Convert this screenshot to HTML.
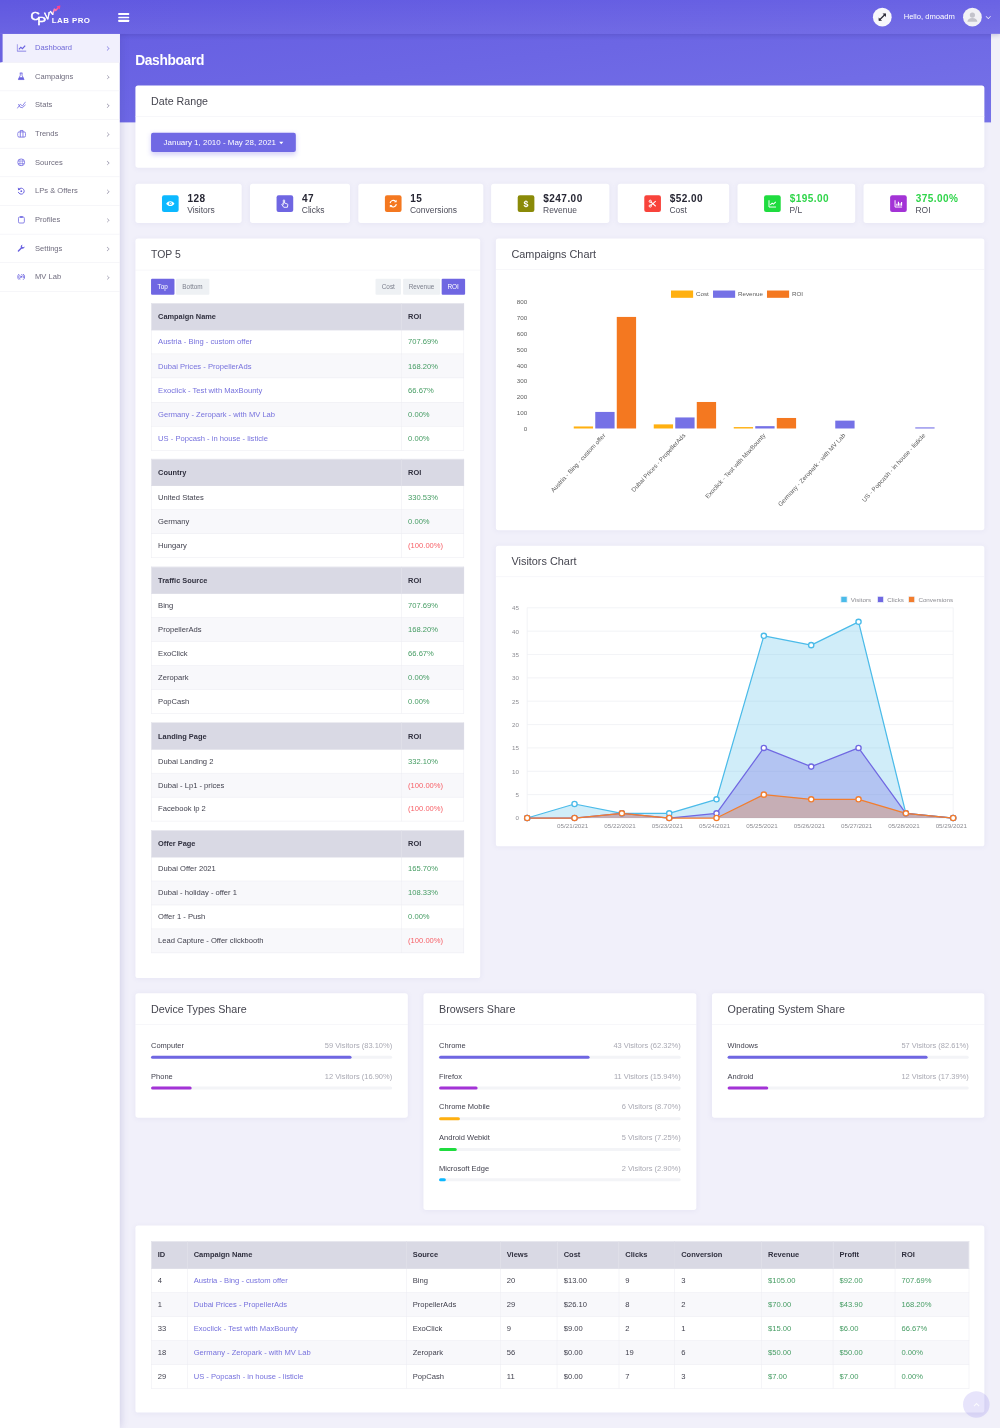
<!DOCTYPE html><html lang="en"><head><meta charset="utf-8"><title>Dashboard - CPV Lab Pro</title><style>
*{box-sizing:border-box}
html,body{margin:0;padding:0}
body{width:1000px;height:1428px;overflow:hidden;background:#f1f0fa;font-family:"Liberation Sans",sans-serif;}
#w{position:absolute;left:0;top:0;width:1920px;height:2742px;transform:scale(0.5208333);transform-origin:0 0;background:#f1f0fa;color:#3a3a4d;font-size:14.6px;overflow:hidden}
#grad{position:absolute;left:0;top:0;width:1903px;height:234.5px;background:linear-gradient(to bottom right,#645ce1 0%,#6c66e4 50%,#7672e8 100%)}
#hdr{position:absolute;left:0;top:0;width:1920px;height:65px;background:linear-gradient(to bottom,rgba(255,255,255,0) 0%,rgba(255,255,255,.07) 100%),linear-gradient(to right,#6058e0 0%,#6a63e4 100%);box-shadow:0 3px 10px rgba(40,30,120,.25)}
#sb{position:absolute;left:0;top:65px;width:230px;height:2677px;background:#fff;box-shadow:0 0 16px rgba(60,50,140,.22);clip-path:inset(0 -40px 0 0)}
#scr{position:absolute;left:1903px;top:65px;width:17px;height:2677px;background:#f1f0f9}
.mi{position:relative;height:55px;border-bottom:1px solid #ededf3;color:#6f6c7e;font-size:14.5px}
.mi.act{background:#f1f0fd;color:#7069d8;border-left:5px solid #6a62e0}
.mi svg.ic{position:absolute;left:41px;top:27px}
.mi.act svg.ic{left:36px}
.mi span{position:absolute;left:67.3px;top:-.9px;line-height:54px}
.mi.act span{left:62.3px}
.mi i{position:absolute;left:203.3px;top:24.5px;width:5.6px;height:5.6px;border-right:1.7px solid #8f8ca3;border-top:1.7px solid #8f8ca3;transform:rotate(45deg)}
.mi.act i{left:198.300px;border-color:#7b74e0}
.card{position:absolute;background:#fff;border-radius:5px;box-shadow:0 1px 10px rgba(130,125,190,.085)}
.ch{height:60px;border-bottom:1px solid #efeff5;padding-left:30px;line-height:59px;font-size:20.5px;color:#45454f}
.sc{position:absolute;top:353px;height:75px;background:#fff;border-radius:5px;box-shadow:0 1px 10px rgba(130,125,190,.085)}
.sc .ib{position:absolute;left:51px;top:21.5px;width:32px;height:32px;border-radius:4px}
.sc .n{position:absolute;left:100px;top:16.9px;font-size:19.3px;letter-spacing:.85px;font-weight:700;color:#262633;line-height:24px;white-space:nowrap}
.sc .l{position:absolute;left:99.500px;top:40px;font-size:16.3px;color:#4d4d5a;line-height:20px;white-space:nowrap}
table{border-collapse:collapse;table-layout:fixed;font-size:14.6px}
th{background:#d9d9e4;color:#30303f;font-weight:700;text-align:left;height:51px;padding:0 0 0 12.5px;border:1px solid #dcdce6;font-size:14.2px}
td{height:46px;padding:0 0 .5px 12.5px;border:1px solid #ebebf1;color:#3f3f4c}
tr:nth-child(odd) td{background:#f8f8fb}
td a{color:#7671dd;text-decoration:none}
.g{color:#459c63}
.r{color:#f75f66}
.t5{position:absolute;left:30px;width:600px}
.bg{position:absolute;top:77px;height:31px;font-size:12.3px}
.bg b{position:absolute;top:0;font-weight:400;display:block;height:31px;line-height:31px;text-align:center;background:#eef1f4;color:#7b7f8c;border-radius:2px}
.bg b.on{background:#6f66e2;color:#fff}
.pr{position:absolute;left:30px;width:464px;height:40px}
.pr .a{position:absolute;left:0;top:-1.8px;font-size:14.4px;color:#3f3f4c}
.pr .b{position:absolute;right:0;top:-1.8px;font-size:14.4px;color:#a9a9b3}
.pr .t{position:absolute;left:0;top:26px;width:464px;height:6px;border-radius:3px;background:#f3f4f7}
.pr .f{position:absolute;left:0;top:26px;height:6px;border-radius:3px}
svg text{font-family:"Liberation Sans",sans-serif}
</style></head><body><div id="w">
<div id="grad"></div><div id="scr"></div>
<div id="hdr">
<svg style="position:absolute;left:52px;top:6px;width:130px;height:50px" viewBox="0 0 130 50">
<defs><linearGradient id="lg" x1="0" y1="1" x2="1" y2="0"><stop offset="0" stop-color="#fff"/><stop offset=".3" stop-color="#ff8fb8"/><stop offset="1" stop-color="#ff3f8e"/></linearGradient></defs>
<text transform="translate(6.500 31.6) scale(1.1 1)" font-size="22.5" font-weight="400" fill="#fff" stroke="#fff" stroke-width="1">C</text>
<text transform="translate(19.600 42.4) scale(1.16 1)" font-size="22" font-weight="400" fill="#fff" stroke="#fff" stroke-width="1">P</text>
<text transform="translate(34.600 31.200) rotate(-7) scale(.86 1)" font-size="18.500" font-weight="400" fill="#fff" stroke="#fff" stroke-width="1.100">V</text>
<path d="M44.800 16.200L49.1 21.5" fill="none" stroke="#fff" stroke-width="2.9" stroke-linejoin="round" stroke-linecap="round"/>
<path d="M49.1 21.5L52.4 11.5L55.1 14.2L60.500 8" fill="none" stroke="url(#lg)" stroke-width="2.9" stroke-linejoin="round" stroke-linecap="round"/>
<path d="M56.500 6L64 4.500L62.800 12.200z" fill="#ff3f8e"/>
<text x="47.4" y="38.1" font-size="15.2" font-weight="700" fill="#fff" letter-spacing=".85">LAB PRO</text>
</svg>
<div style="position:absolute;left:227px;top:25px;width:21px;height:18px"><div style="height:3.8px;background:#fff;border-radius:1px"></div><div style="height:3.8px;background:#fff;border-radius:1px;margin-top:2.9px"></div><div style="height:3.8px;background:#fff;border-radius:1px;margin-top:2.9px"></div></div>
<div style="position:absolute;left:1675.500px;top:14.500px;width:36px;height:36px;border-radius:50%;background:#f7f7fb"><svg viewBox="0 0 36 36" style="position:absolute;left:0;top:0;width:36px;height:36px"><path d="M12 24L24 12" stroke="#2b2b38" stroke-width="2.4"/><path d="M18.5 11H25v6.5zM17.5 25H11v-6.5z" fill="#2b2b38"/></svg></div>
<div style="position:absolute;left:1735px;top:-1px;line-height:66px;font-size:14.6px;color:#fff;white-space:nowrap">Hello, dmoadm</div>
<div style="position:absolute;left:1848.500px;top:14.500px;width:36px;height:36px;border-radius:50%;background:#f1f1f5;overflow:hidden"><svg viewBox="0 0 36 36" style="position:absolute;left:0;top:0;width:36px;height:36px"><circle cx="18" cy="14" r="5" fill="#c3c3cb"/><path d="M8.5 27c0-5 4-7.5 9.500-7.500s9.500 2.500 9.500 7.500z" fill="#c3c3cb"/></svg></div>
<div style="position:absolute;left:1894px;top:28px;width:7px;height:7px;border-right:1.8px solid #fff;border-bottom:1.8px solid #fff;transform:rotate(45deg)"></div>
</div>
<div id="sb">
<div class="mi act"><svg class="ic" viewBox="0 0 20 16" style="width:19.0px;height:15.2px;margin-left:-9.5px;margin-top:-7.6px"><path d="M1 1v14h18.500" fill="none" stroke="#6a62e0" stroke-width="1.500"/><path d="M4.500 11.500l4-4.500 3.200 2.800 5.500-6" fill="none" stroke="#6a62e0" stroke-width="2.400"/></svg><span>Dashboard</span><i></i></div>
<div class="mi"><svg class="ic" viewBox="0 0 14 16" style="width:13.3px;height:15.2px;margin-left:-6.6px;margin-top:-7.6px"><path d="M5.200 1h3.600v5l4 8.500h-11.600l4-8.500z" fill="none" stroke="#6a62e0" stroke-width="1.600"/><path d="M3.200 10h7.600l2 4.500h-11.600z" fill="#6a62e0"/><path d="M4 1h6" stroke="#6a62e0" stroke-width="1.600"/></svg><span>Campaigns</span><i></i></div>
<div class="mi"><svg class="ic" viewBox="0 0 19 16" style="width:18.1px;height:15.2px;margin-left:-9.0px;margin-top:-7.6px"><path d="M1 15l6.500-8.500 4 3.500 6.500-8.500" fill="none" stroke="#6a62e0" stroke-width="1.500"/><path d="M3.500 6l3.500 6.500 4.500 1 6.500-6" fill="none" stroke="#6a62e0" stroke-width="1.500"/></svg><span>Stats</span><i></i></div>
<div class="mi"><svg class="ic" viewBox="0 0 18 16" style="width:17.1px;height:15.2px;margin-left:-8.5px;margin-top:-7.6px"><rect x="1" y="4.500" width="16" height="10.500" rx="3" fill="none" stroke="#6a62e0" stroke-width="1.600"/><path d="M6.300 4.500v10.500M11.700 4.500v10.500M6.300 4.500v-3h5.400v3" stroke="#6a62e0" stroke-width="1.600" fill="none"/></svg><span>Trends</span><i></i></div>
<div class="mi"><svg class="ic" viewBox="0 0 16 16" style="width:15.2px;height:15.2px;margin-left:-7.6px;margin-top:-7.6px"><circle cx="8" cy="8" r="7" fill="none" stroke="#6a62e0" stroke-width="1.600"/><path d="M5.600 1.500v13M10.400 1.500v13M1.500 5.600h13M1.500 10.400h13" stroke="#6a62e0" stroke-width="1.050"/></svg><span>Sources</span><i></i></div>
<div class="mi"><svg class="ic" viewBox="0 0 16 16" style="width:15.2px;height:15.2px;margin-left:-7.6px;margin-top:-7.6px"><path d="M3.600 4.500A6 6 0 1 1 2.300 10" fill="none" stroke="#6a62e0" stroke-width="2"/><path d="M1.200 1.200l.6 5.600 5.200-1.200z" fill="#6a62e0"/><circle cx="8.300" cy="8.500" r="1.800" fill="#6a62e0"/></svg><span>LPs &amp; Offers</span><i></i></div>
<div class="mi"><svg class="ic" viewBox="0 0 15 16" style="width:14.2px;height:15.2px;margin-left:-7.1px;margin-top:-7.6px"><rect x="1.500" y="2.800" width="12" height="12.200" rx="2.500" fill="none" stroke="#6a62e0" stroke-width="1.600"/><rect x="4.500" y="1" width="6" height="3.200" rx="1" fill="#6a62e0"/></svg><span>Profiles</span><i></i></div>
<div class="mi"><svg class="ic" viewBox="0 0 16 16" style="width:15.2px;height:15.2px;margin-left:-7.6px;margin-top:-7.6px"><path d="M2.500 13.500l7-7" stroke="#6a62e0" stroke-width="3" stroke-linecap="round"/><path d="M15 4.500a4 4 0 1 1-3.500-3.500l-2 2.200.6 2.100 2.100.6z" fill="#6a62e0"/></svg><span>Settings</span><i></i></div>
<div class="mi"><svg class="ic" viewBox="0 0 16 16" style="width:15.2px;height:15.2px;margin-left:-7.6px;margin-top:-7.6px"><path d="M4 2.200A7 7 0 0 0 4 13.800M12 2.200a7 7 0 0 1 0 11.600" fill="none" stroke="#6a62e0" stroke-width="1.700"/><path d="M8 3.300a4.700 4.700 0 0 1 4 7.200M6.500 12.500a4.700 4.700 0 0 1-1.700-7.800" fill="none" stroke="#6a62e0" stroke-width="1.500"/><path d="M6.500 5.200v5.600l4.800-2.800z" fill="#6a62e0"/></svg><span>MV Lab</span><i></i></div>
</div>
<div style="position:absolute;left:259.500px;top:98.2px;font-size:26.500px;letter-spacing:-.7px;font-weight:700;color:#fff;line-height:34px">Dashboard</div>
<div class="card" style="left:260px;top:164px;width:1630px;height:158px"><div class="ch">Date Range</div>
<div style="position:absolute;left:30px;top:91px;width:278px;height:37px;border-radius:4px;background:#7069e4;color:#fff;font-size:15.3px;line-height:37px;padding-left:24px;box-shadow:0 4px 10px rgba(108,92,231,.28);white-space:nowrap">January 1, 2010 - May 28, 2021<span style="display:inline-block;margin-left:6px;vertical-align:2px;border-left:4.5px solid transparent;border-right:4.5px solid transparent;border-top:5px solid #fff"></span></div></div>
<div class="sc" style="left:259.8px;width:204.5px"><div class="ib" style="background:#0cb8ff"><svg viewBox="0 0 32 32" width="32" height="32"><path d="M8 16c2.500-3.200 5-4.600 8-4.600s5.500 1.400 8 4.600c-2.500 3.200-5 4.600-8 4.600s-5.500-1.400-8-4.600z" fill="#fff"/><circle cx="16" cy="16" r="2.700" fill="#0cb8ff"/><circle cx="16" cy="16" r="1.300" fill="#fff"/></svg></div><div class="n">128</div><div class="l">Visitors</div></div>
<div class="sc" style="left:480.0px;width:192.0px"><div class="ib" style="background:#6f66e2"><svg viewBox="0 0 32 32" width="32" height="32"><path d="M13 9.500c0-1 2.400-1 2.400 0V15l5 1.500c1 .3 1.400 1 1.200 2l-.8 4.500h-7l-3.600-5c-.6-.9.600-1.900 1.400-1.200L13 18z" fill="none" stroke="#fff" stroke-width="1.700"/></svg></div><div class="n">47</div><div class="l">Clicks</div></div>
<div class="sc" style="left:687.6px;width:240.8px"><div class="ib" style="background:#f47820"><svg viewBox="0 0 32 32" width="32" height="32"><path d="M10 15a6.200 6.200 0 0 1 10.500-3.500" fill="none" stroke="#fff" stroke-width="2.200"/><path d="M22.500 8.500v5h-5z" fill="#fff"/><path d="M22 17a6.200 6.200 0 0 1-10.500 3.500" fill="none" stroke="#fff" stroke-width="2.200"/><path d="M9.500 23.500v-5h5z" fill="#fff"/></svg></div><div class="n">15</div><div class="l">Conversions</div></div>
<div class="sc" style="left:943.1px;width:226.8px"><div class="ib" style="background:#8a8a08"><svg viewBox="0 0 32 32" width="32" height="32"><text x="16" y="22" font-size="17" font-weight="700" fill="#fff" text-anchor="middle">$</text></svg></div><div class="n">$247.00</div><div class="l">Revenue</div></div>
<div class="sc" style="left:1185.8px;width:214.3px"><div class="ib" style="background:#f8433b"><svg viewBox="0 0 32 32" width="32" height="32"><path d="M12 12l10 9M12 20l10-9" stroke="#fff" stroke-width="2"/><circle cx="11.500" cy="11.500" r="2.200" fill="none" stroke="#fff" stroke-width="1.800"/><circle cx="11.500" cy="20.500" r="2.200" fill="none" stroke="#fff" stroke-width="1.800"/></svg></div><div class="n">$52.00</div><div class="l">Cost</div></div>
<div class="sc" style="left:1416.2px;width:225.8px"><div class="ib" style="background:#1fdc3f"><svg viewBox="0 0 32 32" width="32" height="32"><path d="M9.500 9.500v13h13.500" fill="none" stroke="#fff" stroke-width="1.800"/><path d="M12 18.500l3.500-3.500 2.500 2 4.500-4.500" fill="none" stroke="#fff" stroke-width="2"/></svg></div><div class="n" style="color:#2fd54a">$195.00</div><div class="l">P/L</div></div>
<div class="sc" style="left:1658.1px;width:231.9px"><div class="ib" style="background:#a333d6"><svg viewBox="0 0 32 32" width="32" height="32"><path d="M9.500 9.500v13h13.500" fill="none" stroke="#fff" stroke-width="1.800"/><path d="M13 20v-4M16 20v-7.500M19 20v-5M22 20v-7" stroke="#fff" stroke-width="2.200"/></svg></div><div class="n" style="color:#2fd54a">375.00%</div><div class="l">ROI</div></div>
<div class="card" style="left:260px;top:458px;width:662px;height:1419.5px"><div class="ch" style="font-size:20px;height:61px;line-height:62px">TOP 5</div>
<div class="bg" style="left:30px"><b class="on" style="left:0;width:45px">Top</b><b style="left:47.600px;width:64px">Bottom</b></div>
<div class="bg" style="left:461px"><b style="left:0;width:49px">Cost</b><b style="left:52.500px;width:71.500px">Revenue</b><b class="on" style="left:126.500px;width:45px">ROI</b></div>
<table class="t5" style="top:124px"><colgroup><col style="width:480px"><col style="width:120px"></colgroup><tr><th>Campaign Name</th><th>ROI</th></tr><tr><td style="height:46.2px"><a>Austria - Bing - custom offer</a></td><td class="g">707.69%</td></tr><tr><td style="height:46.2px"><a>Dubai Prices - PropellerAds</a></td><td class="g">168.20%</td></tr><tr><td style="height:46.2px"><a>Exoclick - Test with MaxBounty</a></td><td class="g">66.67%</td></tr><tr><td style="height:46.2px"><a>Germany - Zeropark - with MV Lab</a></td><td class="g">0.00%</td></tr><tr><td style="height:46.2px"><a>US - Popcash - in house - listicle</a></td><td class="g">0.00%</td></tr></table>
<table class="t5" style="top:423px"><colgroup><col style="width:480px"><col style="width:120px"></colgroup><tr><th>Country</th><th>ROI</th></tr><tr><td>United States</td><td class="g">330.53%</td></tr><tr><td>Germany</td><td class="g">0.00%</td></tr><tr><td>Hungary</td><td class="r">(100.00%)</td></tr></table>
<table class="t5" style="top:630px"><colgroup><col style="width:480px"><col style="width:120px"></colgroup><tr><th>Traffic Source</th><th>ROI</th></tr><tr><td>Bing</td><td class="g">707.69%</td></tr><tr><td>PropellerAds</td><td class="g">168.20%</td></tr><tr><td>ExoClick</td><td class="g">66.67%</td></tr><tr><td>Zeropark</td><td class="g">0.00%</td></tr><tr><td>PopCash</td><td class="g">0.00%</td></tr></table>
<table class="t5" style="top:929px"><colgroup><col style="width:480px"><col style="width:120px"></colgroup><tr><th>Landing Page</th><th>ROI</th></tr><tr><td>Dubai Landing 2</td><td class="g">332.10%</td></tr><tr><td>Dubai - Lp1 - prices</td><td class="r">(100.00%)</td></tr><tr><td>Facebook lp 2</td><td class="r">(100.00%)</td></tr></table>
<table class="t5" style="top:1136px"><colgroup><col style="width:480px"><col style="width:120px"></colgroup><tr><th>Offer Page</th><th>ROI</th></tr><tr><td>Dubai Offer 2021</td><td class="g">165.70%</td></tr><tr><td>Dubai - holiday - offer 1</td><td class="g">108.33%</td></tr><tr><td>Offer 1 - Push</td><td class="g">0.00%</td></tr><tr><td>Lead Capture - Offer clickbooth</td><td class="r">(100.00%)</td></tr></table>
</div>
<div class="card" style="left:952px;top:458px;width:938px;height:560px"><div class="ch" style="font-size:20.900px">Campaigns Chart</div><svg style="position:absolute;left:0;top:0" width="938" height="560" viewBox="0 0 938 560"><text x="60.4" y="368.7" font-size="12" fill="#5c5c5c" text-anchor="end">0</text><text x="60.4" y="338.5" font-size="12" fill="#5c5c5c" text-anchor="end">100</text><text x="60.4" y="308.2" font-size="12" fill="#5c5c5c" text-anchor="end">200</text><text x="60.4" y="277.9" font-size="12" fill="#5c5c5c" text-anchor="end">300</text><text x="60.4" y="247.7" font-size="12" fill="#5c5c5c" text-anchor="end">400</text><text x="60.4" y="217.4" font-size="12" fill="#5c5c5c" text-anchor="end">500</text><text x="60.4" y="187.1" font-size="12" fill="#5c5c5c" text-anchor="end">600</text><text x="60.4" y="156.9" font-size="12" fill="#5c5c5c" text-anchor="end">700</text><text x="60.4" y="126.6" font-size="12" fill="#5c5c5c" text-anchor="end">800</text><rect x="336.3" y="99.8" width="42.500" height="14" fill="#ffb010"/><text x="384.3" y="110.9" font-size="12" fill="#5c5c5c">Cost</text><rect x="417.0" y="99.8" width="42.500" height="14" fill="#7571e6"/><text x="465.0" y="110.9" font-size="12" fill="#5c5c5c">Revenue</text><rect x="520.6" y="99.8" width="42.500" height="14" fill="#f47820"/><text x="568.6" y="110.9" font-size="12" fill="#5c5c5c">ROI</text><rect x="149.6" y="360.8" width="37.1" height="3.9" fill="#ffb010"/><rect x="190.9" y="332.9" width="37.1" height="31.8" fill="#7571e6"/><rect x="232.2" y="150.5" width="37.1" height="214.2" fill="#f47820"/><text transform="translate(211.1,378.7) rotate(-47.5)" font-size="12" fill="#5c5c5c" text-anchor="end">Austria - Bing - custom offer</text><rect x="303.2" y="356.8" width="37.1" height="7.9" fill="#ffb010"/><rect x="344.5" y="343.5" width="37.1" height="21.2" fill="#7571e6"/><rect x="385.8" y="313.8" width="37.1" height="50.9" fill="#f47820"/><text transform="translate(364.7,378.7) rotate(-47.5)" font-size="12" fill="#5c5c5c" text-anchor="end">Dubai Prices - PropellerAds</text><rect x="456.8" y="362.0" width="37.1" height="2.7" fill="#ffb010"/><rect x="498.1" y="360.2" width="37.1" height="4.5" fill="#7571e6"/><rect x="539.4" y="344.5" width="37.1" height="20.2" fill="#f47820"/><text transform="translate(518.3,378.7) rotate(-47.5)" font-size="12" fill="#5c5c5c" text-anchor="end">Exoclick - Test with MaxBounty</text><rect x="651.7" y="349.6" width="37.1" height="15.1" fill="#7571e6"/><text transform="translate(671.9,378.7) rotate(-47.5)" font-size="12" fill="#5c5c5c" text-anchor="end">Germany - Zeropark - with MV Lab</text><rect x="805.3" y="362.6" width="37.1" height="2.1" fill="#7571e6"/><text transform="translate(825.5,378.7) rotate(-47.5)" font-size="12" fill="#5c5c5c" text-anchor="end">US - Popcash - in house - listicle</text></svg></div>
<div class="card" style="left:952px;top:1048px;width:938px;height:577px"><div class="ch" style="font-size:20.900px">Visitors Chart</div><svg style="position:absolute;left:0;top:0" width="938" height="576" viewBox="0 0 938 576"><line x1="60.2" x2="878.1" y1="522.6" y2="522.6" stroke="#eef0f3" stroke-width="1.5"/><text x="44.5" y="527.2" font-size="12" fill="#8c8c92" text-anchor="end">0</text><line x1="60.2" x2="878.1" y1="477.7" y2="477.7" stroke="#eef0f3" stroke-width="1.5"/><text x="44.5" y="482.3" font-size="12" fill="#8c8c92" text-anchor="end">5</text><line x1="60.2" x2="878.1" y1="432.9" y2="432.9" stroke="#eef0f3" stroke-width="1.5"/><text x="44.5" y="437.5" font-size="12" fill="#8c8c92" text-anchor="end">10</text><line x1="60.2" x2="878.1" y1="388.0" y2="388.0" stroke="#eef0f3" stroke-width="1.5"/><text x="44.5" y="392.6" font-size="12" fill="#8c8c92" text-anchor="end">15</text><line x1="60.2" x2="878.1" y1="343.2" y2="343.2" stroke="#eef0f3" stroke-width="1.5"/><text x="44.5" y="347.8" font-size="12" fill="#8c8c92" text-anchor="end">20</text><line x1="60.2" x2="878.1" y1="298.3" y2="298.3" stroke="#eef0f3" stroke-width="1.5"/><text x="44.5" y="302.9" font-size="12" fill="#8c8c92" text-anchor="end">25</text><line x1="60.2" x2="878.1" y1="253.5" y2="253.5" stroke="#eef0f3" stroke-width="1.5"/><text x="44.5" y="258.1" font-size="12" fill="#8c8c92" text-anchor="end">30</text><line x1="60.2" x2="878.1" y1="208.7" y2="208.7" stroke="#eef0f3" stroke-width="1.5"/><text x="44.5" y="213.3" font-size="12" fill="#8c8c92" text-anchor="end">35</text><line x1="60.2" x2="878.1" y1="163.8" y2="163.8" stroke="#eef0f3" stroke-width="1.5"/><text x="44.5" y="168.4" font-size="12" fill="#8c8c92" text-anchor="end">40</text><line x1="60.2" x2="878.1" y1="119.0" y2="119.0" stroke="#eef0f3" stroke-width="1.5"/><text x="44.5" y="123.6" font-size="12" fill="#8c8c92" text-anchor="end">45</text><line x1="60.2" x2="60.2" y1="119.0" y2="522.6" stroke="#eef0f3" stroke-width="1.5"/><line x1="878.1" x2="878.1" y1="119.0" y2="522.6" stroke="#eef0f3" stroke-width="1.5"/><path d="M60.2 522.6 L151.1 495.7 L242.0 513.6 L332.9 513.6 L423.7 486.7 L514.6 172.8 L605.5 190.7 L696.4 145.9 L787.3 513.6 L878.1 522.6 L878.1 522.6 L60.2 522.6 Z" fill="rgba(75,187,233,.26)"/><path d="M60.2 522.6 L151.1 495.7 L242.0 513.6 L332.9 513.6 L423.7 486.7 L514.6 172.8 L605.5 190.7 L696.4 145.9 L787.3 513.6 L878.1 522.6" fill="none" stroke="#4bbbe9" stroke-width="2.400" stroke-linejoin="round"/><path d="M60.2 522.6 L151.1 522.6 L242.0 513.6 L332.9 522.6 L423.7 513.6 L514.6 388.0 L605.5 423.9 L696.4 388.0 L787.3 513.6 L878.1 522.6 L878.1 522.6 L60.2 522.6 Z" fill="rgba(112,104,226,.30)"/><path d="M60.2 522.6 L151.1 522.6 L242.0 513.6 L332.9 522.6 L423.7 513.6 L514.6 388.0 L605.5 423.9 L696.4 388.0 L787.3 513.6 L878.1 522.6" fill="none" stroke="#7068e2" stroke-width="2.400" stroke-linejoin="round"/><path d="M60.2 522.6 L151.1 522.6 L242.0 513.6 L332.9 522.6 L423.7 522.6 L514.6 477.7 L605.5 486.7 L696.4 486.7 L787.3 513.6 L878.1 522.6 L878.1 522.6 L60.2 522.6 Z" fill="rgba(242,125,46,.31)"/><path d="M60.2 522.6 L151.1 522.6 L242.0 513.6 L332.9 522.6 L423.7 522.6 L514.6 477.7 L605.5 486.7 L696.4 486.7 L787.3 513.6 L878.1 522.6" fill="none" stroke="#f27d2e" stroke-width="2.400" stroke-linejoin="round"/><circle cx="60.2" cy="522.6" r="5" fill="#fff" stroke="#4bbbe9" stroke-width="2.600"/><circle cx="151.1" cy="495.7" r="5" fill="#fff" stroke="#4bbbe9" stroke-width="2.600"/><circle cx="242.0" cy="513.6" r="5" fill="#fff" stroke="#4bbbe9" stroke-width="2.600"/><circle cx="332.9" cy="513.6" r="5" fill="#fff" stroke="#4bbbe9" stroke-width="2.600"/><circle cx="423.7" cy="486.7" r="5" fill="#fff" stroke="#4bbbe9" stroke-width="2.600"/><circle cx="514.6" cy="172.8" r="5" fill="#fff" stroke="#4bbbe9" stroke-width="2.600"/><circle cx="605.5" cy="190.7" r="5" fill="#fff" stroke="#4bbbe9" stroke-width="2.600"/><circle cx="696.4" cy="145.9" r="5" fill="#fff" stroke="#4bbbe9" stroke-width="2.600"/><circle cx="787.3" cy="513.6" r="5" fill="#fff" stroke="#4bbbe9" stroke-width="2.600"/><circle cx="878.1" cy="522.6" r="5" fill="#fff" stroke="#4bbbe9" stroke-width="2.600"/><circle cx="60.2" cy="522.6" r="5" fill="#fff" stroke="#7068e2" stroke-width="2.600"/><circle cx="151.1" cy="522.6" r="5" fill="#fff" stroke="#7068e2" stroke-width="2.600"/><circle cx="242.0" cy="513.6" r="5" fill="#fff" stroke="#7068e2" stroke-width="2.600"/><circle cx="332.9" cy="522.6" r="5" fill="#fff" stroke="#7068e2" stroke-width="2.600"/><circle cx="423.7" cy="513.6" r="5" fill="#fff" stroke="#7068e2" stroke-width="2.600"/><circle cx="514.6" cy="388.0" r="5" fill="#fff" stroke="#7068e2" stroke-width="2.600"/><circle cx="605.5" cy="423.9" r="5" fill="#fff" stroke="#7068e2" stroke-width="2.600"/><circle cx="696.4" cy="388.0" r="5" fill="#fff" stroke="#7068e2" stroke-width="2.600"/><circle cx="787.3" cy="513.6" r="5" fill="#fff" stroke="#7068e2" stroke-width="2.600"/><circle cx="878.1" cy="522.6" r="5" fill="#fff" stroke="#7068e2" stroke-width="2.600"/><circle cx="60.2" cy="522.6" r="5" fill="#fff" stroke="#f27d2e" stroke-width="2.600"/><circle cx="151.1" cy="522.6" r="5" fill="#fff" stroke="#f27d2e" stroke-width="2.600"/><circle cx="242.0" cy="513.6" r="5" fill="#fff" stroke="#f27d2e" stroke-width="2.600"/><circle cx="332.9" cy="522.6" r="5" fill="#fff" stroke="#f27d2e" stroke-width="2.600"/><circle cx="423.7" cy="522.6" r="5" fill="#fff" stroke="#f27d2e" stroke-width="2.600"/><circle cx="514.6" cy="477.7" r="5" fill="#fff" stroke="#f27d2e" stroke-width="2.600"/><circle cx="605.5" cy="486.7" r="5" fill="#fff" stroke="#f27d2e" stroke-width="2.600"/><circle cx="696.4" cy="486.7" r="5" fill="#fff" stroke="#f27d2e" stroke-width="2.600"/><circle cx="787.3" cy="513.6" r="5" fill="#fff" stroke="#f27d2e" stroke-width="2.600"/><circle cx="878.1" cy="522.6" r="5" fill="#fff" stroke="#f27d2e" stroke-width="2.600"/><text x="147.5" y="542.3" font-size="12" fill="#8c8c92" text-anchor="middle">05/21/2021</text><text x="238.4" y="542.3" font-size="12" fill="#8c8c92" text-anchor="middle">05/22/2021</text><text x="329.3" y="542.3" font-size="12" fill="#8c8c92" text-anchor="middle">05/23/2021</text><text x="420.1" y="542.3" font-size="12" fill="#8c8c92" text-anchor="middle">05/24/2021</text><text x="511.0" y="542.3" font-size="12" fill="#8c8c92" text-anchor="middle">05/25/2021</text><text x="601.9" y="542.3" font-size="12" fill="#8c8c92" text-anchor="middle">05/26/2021</text><text x="692.8" y="542.3" font-size="12" fill="#8c8c92" text-anchor="middle">05/27/2021</text><text x="783.7" y="542.3" font-size="12" fill="#8c8c92" text-anchor="middle">05/28/2021</text><text x="874.5" y="542.3" font-size="12" fill="#8c8c92" text-anchor="middle">05/29/2021</text><rect x="662.5" y="96.9" width="12" height="12" fill="#4bbbe9" stroke="#eef4fa" stroke-width="1.500"/><text x="681.5" y="107.8" font-size="12" fill="#8c8c92">Visitors</text><rect x="732.6" y="96.9" width="12" height="12" fill="#7068e2" stroke="#eef4fa" stroke-width="1.500"/><text x="751.6" y="107.8" font-size="12" fill="#8c8c92">Clicks</text><rect x="792.3" y="96.9" width="12" height="12" fill="#f27d2e" stroke="#eef4fa" stroke-width="1.500"/><text x="811.3" y="107.8" font-size="12" fill="#8c8c92">Conversions</text></svg></div>
<div class="card" style="left:260px;top:1907px;width:523px;height:239px"><div class="ch" style="font-size:20.600px;height:61px;line-height:62px">Device Types Share</div><div class="pr" style="top:93.6px;width:463px"><div class="a">Computer</div><div class="b">59 Visitors (83.10%)</div><div class="t" style="width:463px"></div><div class="f" style="width:83.1%;background:#6f66e2"></div></div><div class="pr" style="top:152.6px;width:463px"><div class="a">Phone</div><div class="b">12 Visitors (16.90%)</div><div class="t" style="width:463px"></div><div class="f" style="width:16.9%;background:#a333d6"></div></div></div>
<div class="card" style="left:813px;top:1907px;width:524px;height:416px"><div class="ch" style="font-size:20.600px;height:61px;line-height:62px">Browsers Share</div><div class="pr" style="top:93.6px;width:464px"><div class="a">Chrome</div><div class="b">43 Visitors (62.32%)</div><div class="t" style="width:464px"></div><div class="f" style="width:62.32%;background:#6f66e2"></div></div><div class="pr" style="top:152.6px;width:464px"><div class="a">Firefox</div><div class="b">11 Visitors (15.94%)</div><div class="t" style="width:464px"></div><div class="f" style="width:15.94%;background:#a333d6"></div></div><div class="pr" style="top:211.5px;width:464px"><div class="a">Chrome Mobile</div><div class="b">6 Visitors (8.70%)</div><div class="t" style="width:464px"></div><div class="f" style="width:8.7%;background:#ffb010"></div></div><div class="pr" style="top:270.5px;width:464px"><div class="a">Android Webkit</div><div class="b">5 Visitors (7.25%)</div><div class="t" style="width:464px"></div><div class="f" style="width:7.25%;background:#1fdc3f"></div></div><div class="pr" style="top:329.4px;width:464px"><div class="a">Microsoft Edge</div><div class="b">2 Visitors (2.90%)</div><div class="t" style="width:464px"></div><div class="f" style="width:2.9%;background:#0cb8ff"></div></div></div>
<div class="card" style="left:1367px;top:1907px;width:523px;height:239px"><div class="ch" style="font-size:20.600px;height:61px;line-height:62px">Operating System Share</div><div class="pr" style="top:93.6px;width:463px"><div class="a">Windows</div><div class="b">57 Visitors (82.61%)</div><div class="t" style="width:463px"></div><div class="f" style="width:82.9%;background:#6f66e2"></div></div><div class="pr" style="top:152.6px;width:463px"><div class="a">Android</div><div class="b">12 Visitors (17.39%)</div><div class="t" style="width:463px"></div><div class="f" style="width:16.9%;background:#a333d6"></div></div></div>
<div class="card" style="left:260px;top:2353px;width:1630px;height:359px"><table style="position:absolute;left:30px;top:30px;width:1570px"><colgroup><col style="width:69.1px"><col style="width:420.5px"><col style="width:180.5px"><col style="width:109.4px"><col style="width:118.3px"><col style="width:107.3px"><col style="width:166.7px"><col style="width:137.3px"><col style="width:119.0px"><col style="width:141.5px"></colgroup><tr><th style="height:52px;font-size:14.4px;padding:0 0 1.500px 11.800px">ID</th><th style="height:52px;font-size:14.4px;padding:0 0 1.500px 11.800px">Campaign Name</th><th style="height:52px;font-size:14.4px;padding:0 0 1.500px 11.800px">Source</th><th style="height:52px;font-size:14.4px;padding:0 0 1.500px 11.800px">Views</th><th style="height:52px;font-size:14.4px;padding:0 0 1.500px 11.800px">Cost</th><th style="height:52px;font-size:14.4px;padding:0 0 1.500px 11.800px">Clicks</th><th style="height:52px;font-size:14.4px;padding:0 0 1.500px 11.800px">Conversion</th><th style="height:52px;font-size:14.4px;padding:0 0 1.500px 11.800px">Revenue</th><th style="height:52px;font-size:14.4px;padding:0 0 1.500px 11.800px">Profit</th><th style="height:52px;font-size:14.4px;padding:0 0 1.500px 11.800px">ROI</th></tr><tr><td style="padding:0 0 2px 11.800px">4</td><td style="padding:0 0 2px 11.800px"><a>Austria - Bing - custom offer</a></td><td style="padding:0 0 2px 11.800px">Bing</td><td style="padding:0 0 2px 11.800px">20</td><td style="padding:0 0 2px 11.800px">$13.00</td><td style="padding:0 0 2px 11.800px">9</td><td style="padding:0 0 2px 11.800px">3</td><td class="g" style="padding:0 0 2px 11.800px">$105.00</td><td class="g" style="padding:0 0 2px 11.800px">$92.00</td><td class="g" style="padding:0 0 2px 11.800px">707.69%</td></tr><tr><td style="padding:0 0 2px 11.800px">1</td><td style="padding:0 0 2px 11.800px"><a>Dubai Prices - PropellerAds</a></td><td style="padding:0 0 2px 11.800px">PropellerAds</td><td style="padding:0 0 2px 11.800px">29</td><td style="padding:0 0 2px 11.800px">$26.10</td><td style="padding:0 0 2px 11.800px">8</td><td style="padding:0 0 2px 11.800px">2</td><td class="g" style="padding:0 0 2px 11.800px">$70.00</td><td class="g" style="padding:0 0 2px 11.800px">$43.90</td><td class="g" style="padding:0 0 2px 11.800px">168.20%</td></tr><tr><td style="padding:0 0 2px 11.800px">33</td><td style="padding:0 0 2px 11.800px"><a>Exoclick - Test with MaxBounty</a></td><td style="padding:0 0 2px 11.800px">ExoClick</td><td style="padding:0 0 2px 11.800px">9</td><td style="padding:0 0 2px 11.800px">$9.00</td><td style="padding:0 0 2px 11.800px">2</td><td style="padding:0 0 2px 11.800px">1</td><td class="g" style="padding:0 0 2px 11.800px">$15.00</td><td class="g" style="padding:0 0 2px 11.800px">$6.00</td><td class="g" style="padding:0 0 2px 11.800px">66.67%</td></tr><tr><td style="padding:0 0 2px 11.800px">18</td><td style="padding:0 0 2px 11.800px"><a>Germany - Zeropark - with MV Lab</a></td><td style="padding:0 0 2px 11.800px">Zeropark</td><td style="padding:0 0 2px 11.800px">56</td><td style="padding:0 0 2px 11.800px">$0.00</td><td style="padding:0 0 2px 11.800px">19</td><td style="padding:0 0 2px 11.800px">6</td><td class="g" style="padding:0 0 2px 11.800px">$50.00</td><td class="g" style="padding:0 0 2px 11.800px">$50.00</td><td class="g" style="padding:0 0 2px 11.800px">0.00%</td></tr><tr><td style="padding:0 0 2px 11.800px">29</td><td style="padding:0 0 2px 11.800px"><a>US - Popcash - in house - listicle</a></td><td style="padding:0 0 2px 11.800px">PopCash</td><td style="padding:0 0 2px 11.800px">11</td><td style="padding:0 0 2px 11.800px">$0.00</td><td style="padding:0 0 2px 11.800px">7</td><td style="padding:0 0 2px 11.800px">3</td><td class="g" style="padding:0 0 2px 11.800px">$7.00</td><td class="g" style="padding:0 0 2px 11.800px">$7.00</td><td class="g" style="padding:0 0 2px 11.800px">0.00%</td></tr></table></div>
<div style="position:absolute;left:1849px;top:2671px;width:51px;height:51px;border-radius:50%;background:rgba(120,108,235,.18)"><div style="position:absolute;left:21.500px;top:23.500px;width:8px;height:8px;border-left:2px solid rgba(255,255,255,.85);border-top:2px solid rgba(255,255,255,.85);transform:rotate(45deg)"></div></div>
</div></body></html>
